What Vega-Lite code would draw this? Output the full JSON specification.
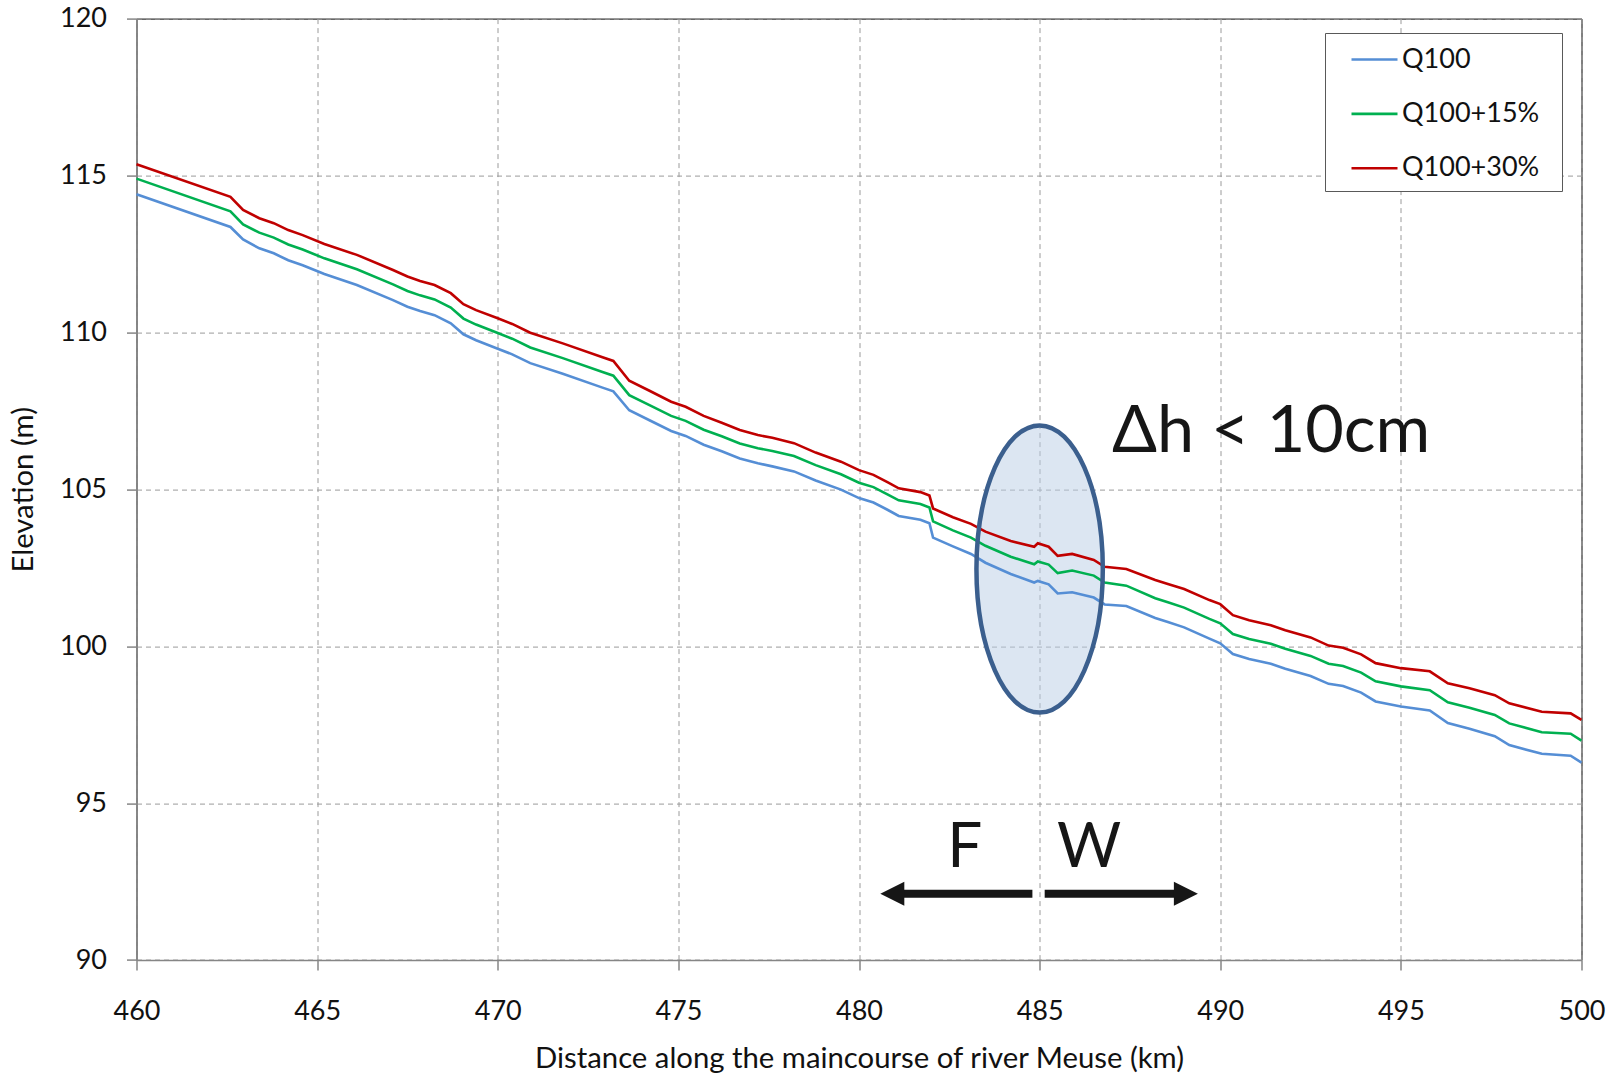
{
  "$schema": "https://vega.github.io/schema/vega-lite/v6.json",
  "width": 1445,
  "height": 941.4,
  "autosize": {"type": "none"},
  "padding": {"left": 136.5, "top": 18.6, "right": 40.5, "bottom": 115},
  "background": "white",
  "config": {
    "font": "Lato",
    "view": {"stroke": "#000000", "strokeWidth": 1},
    "axis": {
      "labelFont": "Lato",
      "labelFontSize": 27,
      "labelColor": "#111111",
      "titleFont": "Lato",
      "titleFontSize": 29.3,
      "titleFontWeight": "normal",
      "titleColor": "#111111",
      "domainColor": "#868686",
      "domainWidth": 1.5,
      "tickColor": "#868686",
      "tickSize": 10,
      "tickWidth": 1.5,
      "gridColor": "#9A9A9A",
      "gridDash": [5, 4],
      "gridWidth": 1
    }
  },
  "layer": [
    {
      "data": {"values": [{"km": 485, "elev": 102.46}]},
      "mark": {
        "type": "point",
        "shape": "M 0 -1 C 0.243 -1 0.44 -0.5523 0.44 0 C 0.44 0.5523 0.243 1 0 1 C -0.243 1 -0.44 0.5523 -0.44 0 C -0.44 -0.5523 -0.243 -1 0 -1 Z",
        "size": 82484,
        "filled": true,
        "fill": "#B9CDE5",
        "fillOpacity": 0.5,
        "strokeWidth": 0,
        "opacity": 1
      },
      "encoding": {
        "x": {"field": "km", "type": "quantitative", "scale": {"domain": [460, 500], "nice": false, "zero": false},
              "axis": {"values": [460, 465, 470, 475, 480, 485, 490, 495, 500], "title": "Distance along the maincourse of river Meuse (km)", "labelPadding": 28, "labelFlush": false, "titleBaseline": "alphabetic", "titleY": 107}},
        "y": {"field": "elev", "type": "quantitative", "scale": {"domain": [90, 120], "nice": false, "zero": false},
              "axis": {"values": [90, 95, 100, 105, 110, 115, 120], "title": "Elevation (m)", "labelPadding": 20, "labelFlush": false, "titleBaseline": "alphabetic", "titleX": -104.5}}
      }
    },
    {
      "data": {"values": [
        {"km": 460.0, "Q100": 114.40, "Q100+15%": 114.90, "Q100+30%": 115.36},
        {"km": 462.6, "Q100": 113.36, "Q100+15%": 113.86, "Q100+30%": 114.32},
        {"km": 462.95, "Q100": 112.96, "Q100+15%": 113.44, "Q100+30%": 113.90},
        {"km": 463.4, "Q100": 112.68, "Q100+15%": 113.18, "Q100+30%": 113.64},
        {"km": 463.8, "Q100": 112.52, "Q100+15%": 113.02, "Q100+30%": 113.48},
        {"km": 464.2, "Q100": 112.30, "Q100+15%": 112.80, "Q100+30%": 113.26},
        {"km": 464.6, "Q100": 112.14, "Q100+15%": 112.64, "Q100+30%": 113.10},
        {"km": 465.2, "Q100": 111.86, "Q100+15%": 112.36, "Q100+30%": 112.82},
        {"km": 466.1, "Q100": 111.51, "Q100+15%": 112.01, "Q100+30%": 112.47},
        {"km": 467.1, "Q100": 111.03, "Q100+15%": 111.53, "Q100+30%": 111.99},
        {"km": 467.5, "Q100": 110.82, "Q100+15%": 111.32, "Q100+30%": 111.78},
        {"km": 467.85, "Q100": 110.68, "Q100+15%": 111.18, "Q100+30%": 111.64},
        {"km": 468.25, "Q100": 110.55, "Q100+15%": 111.05, "Q100+30%": 111.51},
        {"km": 468.7, "Q100": 110.29, "Q100+15%": 110.79, "Q100+30%": 111.25},
        {"km": 469.05, "Q100": 109.94, "Q100+15%": 110.44, "Q100+30%": 110.90},
        {"km": 469.4, "Q100": 109.75, "Q100+15%": 110.25, "Q100+30%": 110.71},
        {"km": 470.0, "Q100": 109.48, "Q100+15%": 109.98, "Q100+30%": 110.45},
        {"km": 470.4, "Q100": 109.30, "Q100+15%": 109.80, "Q100+30%": 110.27},
        {"km": 470.9, "Q100": 109.02, "Q100+15%": 109.52, "Q100+30%": 109.99},
        {"km": 471.8, "Q100": 108.68, "Q100+15%": 109.18, "Q100+30%": 109.65},
        {"km": 472.9, "Q100": 108.24, "Q100+15%": 108.74, "Q100+30%": 109.21},
        {"km": 473.2, "Q100": 108.12, "Q100+15%": 108.62, "Q100+30%": 109.09},
        {"km": 473.64, "Q100": 107.52, "Q100+15%": 108.00, "Q100+30%": 108.46},
        {"km": 474.2, "Q100": 107.20, "Q100+15%": 107.68, "Q100+30%": 108.14},
        {"km": 474.8, "Q100": 106.86, "Q100+15%": 107.34, "Q100+30%": 107.79},
        {"km": 475.2, "Q100": 106.70, "Q100+15%": 107.18, "Q100+30%": 107.63},
        {"km": 475.7, "Q100": 106.42, "Q100+15%": 106.90, "Q100+30%": 107.34},
        {"km": 476.2, "Q100": 106.21, "Q100+15%": 106.69, "Q100+30%": 107.12},
        {"km": 476.7, "Q100": 105.98, "Q100+15%": 106.46, "Q100+30%": 106.89},
        {"km": 477.2, "Q100": 105.83, "Q100+15%": 106.31, "Q100+30%": 106.73},
        {"km": 477.6, "Q100": 105.73, "Q100+15%": 106.22, "Q100+30%": 106.64},
        {"km": 478.2, "Q100": 105.57, "Q100+15%": 106.06, "Q100+30%": 106.47},
        {"km": 478.8, "Q100": 105.28, "Q100+15%": 105.77, "Q100+30%": 106.17},
        {"km": 479.5, "Q100": 104.99, "Q100+15%": 105.48, "Q100+30%": 105.88},
        {"km": 480.0, "Q100": 104.72, "Q100+15%": 105.21, "Q100+30%": 105.61},
        {"km": 480.4, "Q100": 104.58, "Q100+15%": 105.07, "Q100+30%": 105.46},
        {"km": 480.8, "Q100": 104.34, "Q100+15%": 104.83, "Q100+30%": 105.22},
        {"km": 481.1, "Q100": 104.15, "Q100+15%": 104.65, "Q100+30%": 105.03},
        {"km": 481.7, "Q100": 104.03, "Q100+15%": 104.53, "Q100+30%": 104.91},
        {"km": 481.95, "Q100": 103.92, "Q100+15%": 104.42, "Q100+30%": 104.80},
        {"km": 482.05, "Q100": 103.46, "Q100+15%": 103.98, "Q100+30%": 104.39},
        {"km": 482.6, "Q100": 103.18, "Q100+15%": 103.69, "Q100+30%": 104.11},
        {"km": 483.1, "Q100": 102.94, "Q100+15%": 103.46, "Q100+30%": 103.90},
        {"km": 483.5, "Q100": 102.66, "Q100+15%": 103.20, "Q100+30%": 103.65},
        {"km": 484.2, "Q100": 102.30, "Q100+15%": 102.85, "Q100+30%": 103.35},
        {"km": 484.85, "Q100": 102.03, "Q100+15%": 102.61, "Q100+30%": 103.17},
        {"km": 484.95, "Q100": 102.08, "Q100+15%": 102.70, "Q100+30%": 103.28},
        {"km": 485.25, "Q100": 101.97, "Q100+15%": 102.60, "Q100+30%": 103.17},
        {"km": 485.5, "Q100": 101.68, "Q100+15%": 102.33, "Q100+30%": 102.88},
        {"km": 485.9, "Q100": 101.72, "Q100+15%": 102.41, "Q100+30%": 102.94},
        {"km": 486.5, "Q100": 101.55, "Q100+15%": 102.25, "Q100+30%": 102.75},
        {"km": 486.8, "Q100": 101.33, "Q100+15%": 102.03, "Q100+30%": 102.53},
        {"km": 487.4, "Q100": 101.28, "Q100+15%": 101.93, "Q100+30%": 102.46},
        {"km": 488.2, "Q100": 100.90, "Q100+15%": 101.53, "Q100+30%": 102.11},
        {"km": 488.55, "Q100": 100.77, "Q100+15%": 101.40, "Q100+30%": 101.98},
        {"km": 489.0, "Q100": 100.60, "Q100+15%": 101.23, "Q100+30%": 101.82},
        {"km": 489.7, "Q100": 100.24, "Q100+15%": 100.87, "Q100+30%": 101.47},
        {"km": 490.0, "Q100": 100.09, "Q100+15%": 100.73, "Q100+30%": 101.34},
        {"km": 490.35, "Q100": 99.75, "Q100+15%": 100.39, "Q100+30%": 100.99},
        {"km": 490.8, "Q100": 99.59, "Q100+15%": 100.23, "Q100+30%": 100.83},
        {"km": 491.4, "Q100": 99.44, "Q100+15%": 100.08, "Q100+30%": 100.67},
        {"km": 491.8, "Q100": 99.28, "Q100+15%": 99.92, "Q100+30%": 100.51},
        {"km": 492.5, "Q100": 99.05, "Q100+15%": 99.69, "Q100+30%": 100.28},
        {"km": 493.0, "Q100": 98.80, "Q100+15%": 99.44, "Q100+30%": 100.02},
        {"km": 493.4, "Q100": 98.73, "Q100+15%": 99.37, "Q100+30%": 99.95},
        {"km": 493.9, "Q100": 98.52, "Q100+15%": 99.16, "Q100+30%": 99.74},
        {"km": 494.3, "Q100": 98.24, "Q100+15%": 98.88, "Q100+30%": 99.46},
        {"km": 495.0, "Q100": 98.08, "Q100+15%": 98.72, "Q100+30%": 99.30},
        {"km": 495.8, "Q100": 97.95, "Q100+15%": 98.60, "Q100+30%": 99.20},
        {"km": 496.3, "Q100": 97.55, "Q100+15%": 98.21, "Q100+30%": 98.82},
        {"km": 496.9, "Q100": 97.37, "Q100+15%": 98.04, "Q100+30%": 98.66},
        {"km": 497.6, "Q100": 97.13, "Q100+15%": 97.81, "Q100+30%": 98.44},
        {"km": 498.0, "Q100": 96.85, "Q100+15%": 97.54, "Q100+30%": 98.18},
        {"km": 498.9, "Q100": 96.57, "Q100+15%": 97.26, "Q100+30%": 97.91},
        {"km": 499.7, "Q100": 96.51, "Q100+15%": 97.21, "Q100+30%": 97.86},
        {"km": 500.0, "Q100": 96.29, "Q100+15%": 96.99, "Q100+30%": 97.65}
      ]},
      "transform": [{"fold": ["Q100", "Q100+15%", "Q100+30%"], "as": ["series", "elev"]}],
      "mark": {"type": "line", "strokeWidth": 2.6, "interpolate": "linear"},
      "encoding": {
        "x": {"field": "km", "type": "quantitative"},
        "y": {"field": "elev", "type": "quantitative"},
        "color": {
          "field": "series", "type": "nominal",
          "scale": {"domain": ["Q100", "Q100+15%", "Q100+30%"], "range": ["#558ED5", "#00B050", "#C00000"]},
          "legend": {
            "orient": "none", "legendX": 1188.5, "legendY": 14.4,
            "title": " ", "titleOrient": "bottom", "titleFontSize": 1, "titlePadding": 7,
            "padding": 2, "symbolOffset": 23, "labelFontSize": 27, "labelFont": "Lato", "labelColor": "#111111",
            "labelLimit": 400,
            "symbolType": "stroke", "symbolSize": 2116, "symbolStrokeWidth": 2.6, "rowPadding": 16.4,
            "strokeColor": "#595959", "fillColor": "#ffffff", "labelOffset": 3,
            "labelExpr": "datum.label + '\u00a0\u00a0\u00a0\u200b'"
          }
        },
        "order": {"field": "km", "type": "quantitative"}
      }
    },
    {
      "data": {"values": [{"km": 485, "elev": 102.46}]},
      "mark": {
        "type": "point",
        "shape": "M 0 -1 C 0.243 -1 0.44 -0.5523 0.44 0 C 0.44 0.5523 0.243 1 0 1 C -0.243 1 -0.44 0.5523 -0.44 0 C -0.44 -0.5523 -0.243 -1 0 -1 Z",
        "size": 82484,
        "filled": false,
        "stroke": "#3B5F8E",
        "strokeWidth": 4.5,
        "opacity": 1
      },
      "encoding": {
        "x": {"field": "km", "type": "quantitative"},
        "y": {"field": "elev", "type": "quantitative"}
      }
    },
    {
      "data": {"values": [
        {"km": 484.80, "km2": 481.10, "elev": 92.11},
        {"km": 485.14, "km2": 488.85, "elev": 92.11}
      ]},
      "mark": {"type": "rule", "strokeWidth": 8, "color": "#161616", "strokeCap": "butt"},
      "encoding": {
        "x": {"field": "km", "type": "quantitative"},
        "x2": {"field": "km2"},
        "y": {"field": "elev", "type": "quantitative"}
      }
    },
    {
      "data": {"values": [
        {"km": 480.59, "elev": 92.11, "dir": "L"},
        {"km": 489.38, "elev": 92.11, "dir": "R"}
      ]},
      "mark": {"type": "point", "filled": true, "color": "#161616", "size": 576, "opacity": 1, "strokeWidth": 0},
      "encoding": {
        "x": {"field": "km", "type": "quantitative"},
        "y": {"field": "elev", "type": "quantitative"},
        "shape": {"field": "dir", "type": "nominal", "scale": {"domain": ["L", "R"], "range": ["M 0 0 L 2 -1 L 2 1 Z", "M 0 0 L -2 -1 L -2 1 Z"]}, "legend": null}
      }
    },
    {
      "data": {"values": [
        {"km": 482.93, "elev": 92.97, "label": "F"},
        {"km": 486.37, "elev": 92.97, "label": "W"}
      ]},
      "mark": {"type": "text", "fontSize": 62, "font": "Lato", "color": "#161616", "align": "center", "baseline": "alphabetic"},
      "encoding": {
        "x": {"field": "km", "type": "quantitative"},
        "y": {"field": "elev", "type": "quantitative"},
        "text": {"field": "label"}
      }
    },
    {
      "data": {"values": [{"km": 487.0, "elev": 106.2, "label": "Δh < 10cm"}]},
      "mark": {"type": "text", "fontSize": 66.5, "font": "Lato", "color": "#161616", "align": "left", "baseline": "alphabetic"},
      "encoding": {
        "x": {"field": "km", "type": "quantitative"},
        "y": {"field": "elev", "type": "quantitative"},
        "text": {"field": "label"}
      }
    }
  ]
}
